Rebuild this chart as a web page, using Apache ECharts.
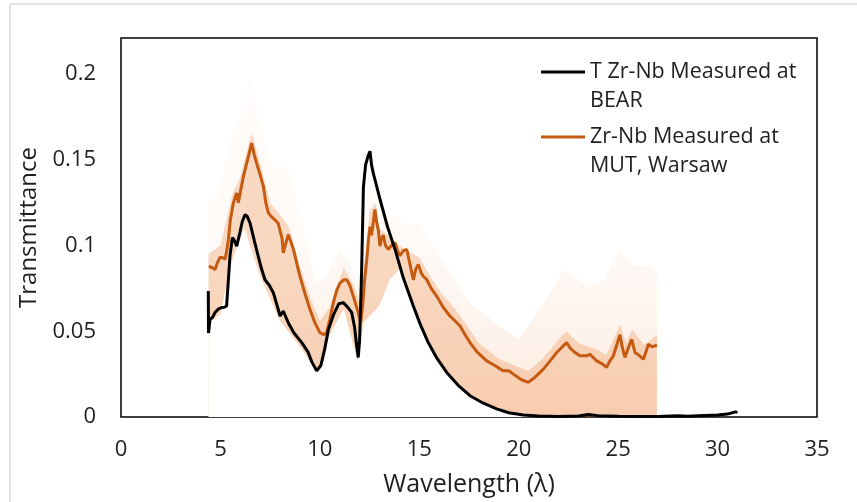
<!DOCTYPE html>
<html>
<head>
<meta charset="utf-8">
<script src="https://cdn.jsdelivr.net/npm/echarts@6/dist/echarts.min.js"></script>
<style>
html,body{margin:0;padding:0;background:#fff;}
#chart{width:857px;height:502px;}
</style>
</head>
<body>
<div id="chart"></div>
<script>
// ---- Data ----
const seriesNames = ['T Zr-Nb Measured at\nBEAR', 'Zr-Nb Measured at\nMUT, Warsaw'];
const xTicks = [0, 5, 10, 15, 20, 25, 30, 35];
const yTicks = [0, 0.05, 0.1, 0.15, 0.2];

// Black: T Zr-Nb measured at BEAR
const bearX = [4.39,4.40,4.48,4.6,4.73,4.9,5.06,5.2,5.31,5.4,5.48,5.6,5.7,5.82,5.95,6.1,6.24,6.35,6.49,6.7,6.9,7.05,7.24,7.45,7.66,7.85,8.0,8.16,8.3,8.41,8.7,9.09,9.4,9.6,9.84,10.05,10.25,10.43,10.7,10.95,11.18,11.4,11.6,11.75,11.85,11.93,12.0,12.1,12.19,12.3,12.42,12.52,12.6,12.69,13.0,13.4,13.78,14.2,14.7,15.05,15.45,15.9,16.38,17.0,17.55,18.2,18.89,19.5,20.23,21.0,22.0,23.0,23.5,24.0,25.0,26.0,27.0,28.0,28.5,29.0,30.0,30.5,30.9,31.0];
const bearY = [0.0735,0.049,0.057,0.058,0.061,0.063,0.0638,0.064,0.0647,0.08,0.0938,0.1045,0.103,0.0996,0.106,0.114,0.118,0.117,0.113,0.103,0.0938,0.087,0.080,0.077,0.0725,0.065,0.0589,0.0618,0.058,0.055,0.049,0.0434,0.038,0.032,0.027,0.030,0.040,0.051,0.060,0.066,0.0667,0.064,0.061,0.052,0.0415,0.0347,0.045,0.085,0.134,0.147,0.152,0.155,0.147,0.142,0.128,0.111,0.0977,0.081,0.0647,0.054,0.0434,0.034,0.026,0.018,0.0124,0.0082,0.0047,0.0025,0.0012,0.0006,0.0003,0.0006,0.0015,0.0008,0.0004,0.0003,0.0003,0.0007,0.0005,0.0008,0.0012,0.0017,0.003,0.0027];

// Orange: Zr-Nb measured at MUT, Warsaw
const mutX = [4.42,4.6,4.73,4.85,4.98,5.1,5.23,5.32,5.4,5.5,5.65,5.82,5.9,6.0,6.15,6.3,6.45,6.57,6.7,6.82,7.0,7.16,7.28,7.41,7.55,7.74,7.9,8.0,8.1,8.16,8.28,8.41,8.55,8.67,8.85,9.0,9.25,9.5,9.75,10.0,10.2,10.34,10.5,10.68,10.85,11.01,11.2,11.35,11.5,11.68,11.9,12.05,12.15,12.25,12.36,12.45,12.52,12.6,12.69,12.77,12.85,12.94,13.02,13.1,13.19,13.3,13.44,13.6,13.78,13.9,14.03,14.2,14.37,14.55,14.7,14.82,14.95,15.1,15.2,15.37,15.6,15.87,16.2,16.54,16.8,17.05,17.3,17.55,17.9,18.39,18.8,19.22,19.5,19.73,20.1,20.48,20.8,21.24,21.6,21.91,22.2,22.41,22.6,22.83,23.08,23.42,23.58,23.92,24.2,24.42,24.6,24.76,24.93,25.09,25.2,25.34,25.5,25.68,25.85,26.05,26.27,26.4,26.52,26.7,26.85,26.95];
const mutY = [0.088,0.087,0.086,0.090,0.093,0.093,0.092,0.097,0.1035,0.115,0.1248,0.1306,0.125,0.131,0.140,0.147,0.154,0.1597,0.153,0.148,0.141,0.1345,0.125,0.119,0.117,0.115,0.113,0.112,0.104,0.0957,0.101,0.1064,0.102,0.0977,0.089,0.082,0.072,0.0628,0.055,0.0492,0.048,0.0492,0.057,0.0667,0.074,0.078,0.080,0.080,0.077,0.0705,0.062,0.055,0.065,0.080,0.092,0.104,0.111,0.106,0.105,0.121,0.114,0.109,0.0996,0.104,0.106,0.100,0.0977,0.100,0.1016,0.097,0.094,0.097,0.0977,0.088,0.080,0.086,0.089,0.084,0.082,0.0802,0.075,0.0705,0.064,0.0589,0.056,0.0531,0.048,0.0434,0.038,0.0327,0.030,0.0269,0.027,0.025,0.022,0.0202,0.023,0.0279,0.033,0.0376,0.041,0.0434,0.040,0.0376,0.0357,0.0357,0.0366,0.0327,0.031,0.0289,0.033,0.0357,0.042,0.048,0.041,0.0347,0.040,0.0453,0.0376,0.036,0.0337,0.038,0.0424,0.041,0.0415,0.042];

// Shaded spread band of the MUT measurement (outer faint edge, dense edge, lower edge)
const bandHighX = [4.4,4.8,5.2,5.6,6.0,6.5,7.0,7.5,8.0,8.3,8.7,9.0,9.4,9.8,10.3,11.0,11.5,11.9,12.2,12.5,13.0,14.0,14.5,15.0,16.0,17.5,19.0,20.0,21.2,22.3,23.5,24.3,25.1,25.7,26.6,26.95];
const bandHighY = [0.128,0.125,0.145,0.166,0.175,0.200,0.170,0.150,0.145,0.152,0.130,0.117,0.098,0.078,0.082,0.098,0.090,0.078,0.120,0.135,0.119,0.115,0.111,0.113,0.094,0.067,0.053,0.045,0.065,0.086,0.076,0.080,0.098,0.088,0.088,0.085];
const bandMidX = [4.4,5.0,5.6,6.0,6.57,7.0,7.5,8.0,8.4,9.0,9.5,10.0,10.5,11.2,11.7,12.05,12.5,12.8,13.0,13.5,14.0,14.5,15.0,15.5,16.0,17.0,18.0,19.0,20.0,20.5,21.2,22.0,22.4,23.0,24.0,24.4,25.1,25.4,25.7,26.3,26.95];
const bandMidY = [0.095,0.100,0.130,0.140,0.166,0.148,0.125,0.118,0.112,0.088,0.070,0.056,0.064,0.087,0.077,0.065,0.120,0.125,0.110,0.105,0.100,0.096,0.093,0.083,0.074,0.060,0.043,0.034,0.029,0.027,0.034,0.045,0.050,0.043,0.039,0.036,0.054,0.043,0.051,0.042,0.048];
const bandLowX = [4.4,5.0,5.5,6.2,7.0,8.0,9.0,9.9,10.5,11.2,11.9,12.2,12.6,13.0,13.5,14.0,14.7,15.5,16.4,17.5,18.9,20.2,21.0,27.0];
const bandLowY = [0.055,0.060,0.088,0.110,0.082,0.056,0.041,0.026,0.048,0.063,0.033,0.055,0.060,0.065,0.080,0.086,0.063,0.042,0.025,0.012,0.0045,0.001,0,0];

function pairs(xs, ys) { return xs.map((x, i) => [x, ys[i]]); }

const FONT = 'Open Sans';
const TEXT = '#1f1f1f';
const ORANGE = '#c55a11';

const chart = echarts.init(document.getElementById('chart'), null, { renderer: 'canvas' });

const legendCommon = {
  left: 541, padding: 0, icon: 'rect', itemWidth: 44, itemHeight: 3,
  formatter: name => ' \n' + name,
  textStyle: { fontFamily: FONT, fontSize: 21.5, color: TEXT, lineHeight: 29 }
};

chart.setOption({
  animation: false,
  backgroundColor: '#fff',
  graphic: [{
    type: 'rect', silent: true, z: -10,
    shape: { x: 10, y: 4, width: 900, height: 600 },
    style: { fill: 'none', stroke: '#d9d9d9', lineWidth: 1.5 }
  }],
  grid: {
    left: 121, top: 38, right: 40, bottom: 84,
    show: true, borderColor: '#000', borderWidth: 1.5, backgroundColor: 'transparent'
  },
  legend: [
    Object.assign({ data: [seriesNames[0]], top: 28.5 }, legendCommon),
    Object.assign({ data: [seriesNames[1]], top: 93.5 }, legendCommon)
  ],
  xAxis: {
    type: 'value', min: xTicks[0], max: xTicks[xTicks.length - 1], interval: 5,
    name: 'Wavelength (λ)', nameLocation: 'middle', nameGap: 55,
    nameTextStyle: { fontFamily: FONT, fontSize: 25, color: TEXT },
    axisLine: { show: false }, axisTick: { show: false }, splitLine: { show: false },
    axisLabel: { fontFamily: FONT, fontSize: 22, color: TEXT, margin: 22 }
  },
  yAxis: {
    type: 'value', min: 0, max: 0.221, interval: 0.05,
    name: 'Transmittance', nameLocation: 'middle', nameGap: 72,
    nameTextStyle: { fontFamily: FONT, fontSize: 24, color: TEXT },
    axisLine: { show: false }, axisTick: { show: false }, splitLine: { show: false },
    axisLabel: {
      fontFamily: FONT, fontSize: 22, color: TEXT, margin: 25,
      showMaxLabel: false,
      formatter: v => (yTicks.some(t => Math.abs(t - v) < 1e-9) ? String(Math.round(v * 100) / 100) : '')
    }
  },
  series: [
    {
      type: 'line', data: pairs(bandHighX, bandHighY), symbol: 'none', silent: true, z: 1,
      lineStyle: { width: 0 },
      areaStyle: {
        opacity: 1,
        color: new echarts.graphic.LinearGradient(0, 0, 0, 1, [
          { offset: 0, color: 'rgba(237,125,49,0.02)' },
          { offset: 0.5, color: 'rgba(237,125,49,0.04)' },
          { offset: 0.75, color: 'rgba(237,125,49,0.09)' },
          { offset: 1, color: 'rgba(237,125,49,0.16)' }
        ])
      }
    },
    {
      type: 'line', data: pairs(bandMidX, bandMidY), symbol: 'none', silent: true, z: 2,
      lineStyle: { width: 0 },
      areaStyle: { color: 'rgba(237,125,49,0.27)', opacity: 1 }
    },
    {
      type: 'line', data: pairs(bandLowX, bandLowY), symbol: 'none', silent: true, z: 3,
      lineStyle: { width: 0 },
      areaStyle: { color: '#ffffff', opacity: 1 }
    },
    {
      name: seriesNames[1], type: 'line', data: pairs(mutX, mutY), symbol: 'none', z: 5,
      lineStyle: { color: ORANGE, width: 3 }, itemStyle: { color: ORANGE }
    },
    {
      name: seriesNames[0], type: 'line', data: pairs(bearX, bearY), symbol: 'none', z: 6,
      lineStyle: { color: '#000', width: 3 }, itemStyle: { color: '#000' }
    }
  ]
});
</script>
</body>
</html>
